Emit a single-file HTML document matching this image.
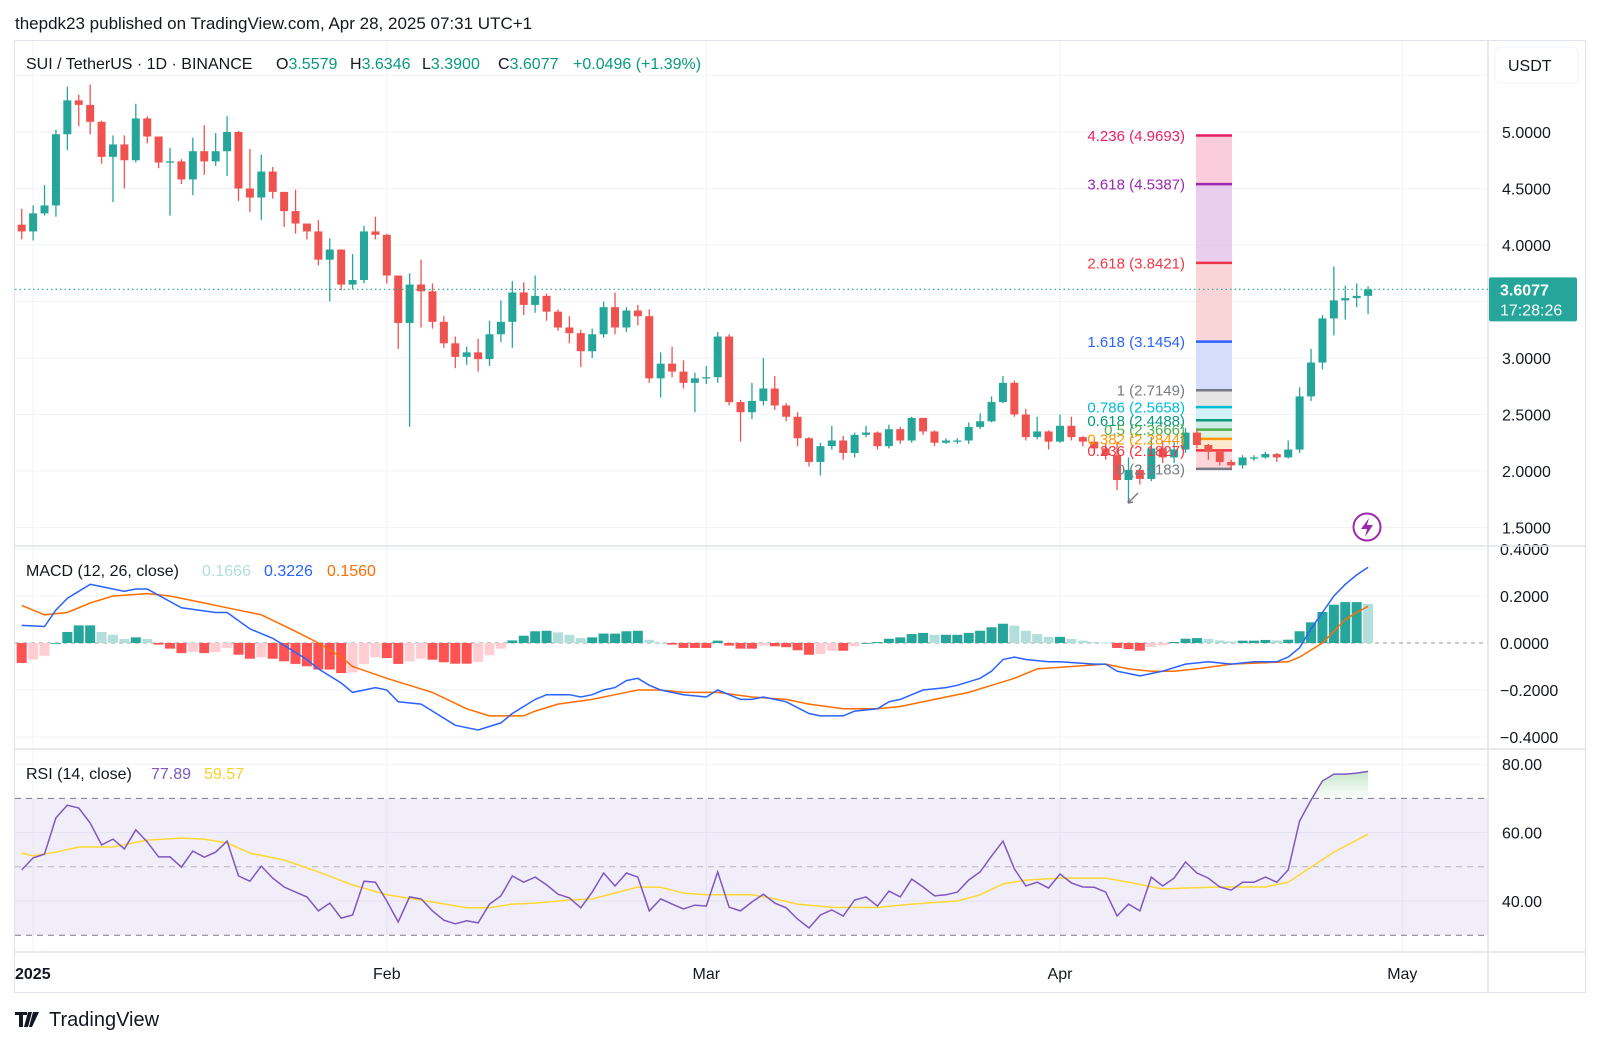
<!DOCTYPE html>
<html><head><meta charset="utf-8"><title>SUI / TetherUS chart</title>
<style>
html,body{margin:0;padding:0;background:#fff;}
svg{display:block;font-family:"Liberation Sans",sans-serif;}
</style></head>
<body>
<svg id="chart" width="1600" height="1045" viewBox="0 0 1600 1045" xmlns="http://www.w3.org/2000/svg">
<defs>
<clipPath id="cMain"><rect x="15" y="41" width="1473" height="505"/></clipPath>
<clipPath id="cMacd"><rect x="15" y="547" width="1473" height="202"/></clipPath>
<clipPath id="cRsi"><rect x="15" y="750" width="1473" height="202"/></clipPath>
<linearGradient id="obGrad" x1="0" y1="0" x2="0" y2="1"><stop offset="0" stop-color="#4caf50" stop-opacity="0.3"/><stop offset="1" stop-color="#4caf50" stop-opacity="0.02"/></linearGradient>
</defs>
<text x="15" y="29" font-size="17" fill="#131722">thepdk23 published on TradingView.com, Apr 28, 2025 07:31 UTC+1</text>
<rect x="14.5" y="40.5" width="1571" height="952" fill="none" stroke="#e0e3eb"/>
<g id="grid"></g>
<g id="main" clip-path="url(#cMain)"></g>
<g id="macd" clip-path="url(#cMacd)"></g>
<g id="rsi" clip-path="url(#cRsi)"></g>
<g id="axes"></g>
<g font-size="16">
<text x="26" y="69" fill="#131722">SUI / TetherUS · 1D · BINANCE</text>
<text x="276" y="69" fill="#131722">O<tspan fill="#089981">3.5579</tspan></text>
<text x="350" y="69" fill="#131722">H<tspan fill="#089981">3.6346</tspan></text>
<text x="422" y="69" fill="#131722">L<tspan fill="#089981">3.3900</tspan></text>
<text x="498" y="69" fill="#131722">C<tspan fill="#089981">3.6077</tspan></text>
<text x="573" y="69" fill="#089981">+0.0496 (+1.39%)</text>
</g>
<g font-size="16">
<text x="26" y="576" fill="#131722">MACD (12, 26, close)</text>
<text x="202" y="576" fill="#b2dfdb">0.1666</text>
<text x="264" y="576" fill="#2962ff">0.3226</text>
<text x="327" y="576" fill="#ff6d00">0.1560</text>
</g>
<g font-size="16">
<text x="26" y="779" fill="#131722">RSI (14, close)</text>
<text x="151" y="779" fill="#7e57c2">77.89</text>
<text x="204" y="779" fill="#f9cf2c">59.57</text>
</g>
<g>
<rect x="1495" y="47" width="83" height="36" rx="5" fill="#fff" stroke="#f0f3fa"/>
<text x="1508" y="71" font-size="16" fill="#131722">USDT</text>
</g>
<g>
<circle cx="1367" cy="527" r="13.5" fill="#fff" stroke="#9c27b0" stroke-width="2"/>
<path d="M1369 518 L1361 529 L1367 529 L1365 537 L1373 525 L1367 525 Z" fill="#9c27b0"/>
</g>
<g>
<path d="M15 1012 h12 v3 h-4 v12 h-4 v-12 h-4 z M28 1012 h4 l-4 15 h-4 z M33 1012 h6 l-7 15 h-3 z" fill="#131722"/>
<text x="49" y="1026" font-size="20" fill="#131722">TradingView</text>
</g>
<script>
// ---------- data ----------
const firstOpen = 4.18;
const closes = [4.12,4.28,4.35,4.98,5.28,5.24,5.09,4.78,4.89,4.75,
5.12,4.96,4.73,4.74,4.58,4.83,4.74,4.83,5.00,4.50,
4.42,4.65,4.47,4.30,4.19,4.12,3.87,3.96,3.65,3.69,
4.12,4.09,3.73,3.31,3.65,3.59,3.32,3.13,3.01,3.05,
2.99,3.21,3.32,3.58,3.47,3.55,3.41,3.27,3.22,3.06,
3.21,3.45,3.27,3.42,3.37,2.82,2.95,2.88,2.78,2.82,
2.83,3.19,2.61,2.52,2.62,2.73,2.58,2.48,2.29,2.08,
2.22,2.27,2.16,2.32,2.34,2.22,2.37,2.27,2.47,2.35,
2.25,2.27,2.27,2.39,2.44,2.61,2.78,2.50,2.30,2.35,
2.26,2.40,2.30,2.26,2.20,2.14,1.92,2.01,1.93,2.20,
2.12,2.19,2.34,2.23,2.17,2.08,2.05,2.12,2.12,2.15,
2.12,2.19,2.66,2.96,3.35,3.51,3.53,3.55,3.6077];
const highs = [4.32,4.35,4.53,5.02,5.40,5.33,5.42,5.10,4.97,4.97,
5.25,5.14,4.95,4.86,4.76,4.95,5.06,4.99,5.14,5.01,
4.85,4.80,4.69,4.45,4.49,4.19,4.22,4.06,3.96,3.92,
4.17,4.25,4.10,3.73,3.75,3.87,3.66,3.37,3.19,3.10,
3.17,3.33,3.51,3.68,3.67,3.73,3.57,3.43,3.37,3.25,
3.26,3.50,3.58,3.45,3.47,3.43,3.05,3.10,2.98,2.87,
2.93,3.23,3.21,2.63,2.78,3.00,2.84,2.60,2.52,2.30,
2.25,2.40,2.31,2.34,2.40,2.35,2.41,2.39,2.48,2.46,
2.36,2.29,2.29,2.43,2.51,2.66,2.84,2.80,2.55,2.48,
2.36,2.50,2.48,2.31,2.28,2.25,2.26,2.12,2.03,2.30,
2.27,2.26,2.38,2.37,2.24,2.19,2.10,2.14,2.14,2.17,
2.16,2.27,2.74,3.08,3.38,3.81,3.64,3.66,3.6346];
const lows = [4.05,4.04,4.26,4.25,4.84,5.05,4.98,4.72,4.38,4.50,
4.73,4.90,4.68,4.26,4.54,4.44,4.62,4.70,4.61,4.39,
4.29,4.22,4.41,4.16,4.10,4.05,3.82,3.50,3.60,3.61,
3.66,4.05,3.66,3.08,2.39,3.27,3.26,3.09,2.91,2.94,
2.88,2.93,3.14,3.09,3.38,3.40,3.33,3.24,3.13,2.92,
3.00,3.18,3.21,3.23,3.29,2.78,2.65,2.83,2.73,2.52,
2.77,2.78,2.58,2.26,2.46,2.58,2.54,2.44,2.22,2.04,
1.96,2.19,2.10,2.12,2.30,2.19,2.20,2.24,2.25,2.32,
2.22,2.24,2.24,2.24,2.37,2.43,2.60,2.48,2.27,2.28,
2.19,2.25,2.27,2.22,2.15,2.10,1.83,1.73,1.88,1.91,
2.07,2.07,2.16,2.20,2.10,2.05,2.02,2.02,2.09,2.11,
2.08,2.11,2.16,2.62,2.90,3.20,3.34,3.45,3.39];
const lastPrice = 3.6077;
const priceTicks = [5.0,4.5,4.0,3.0,2.5,2.0,1.5];
const priceGrid = [5.5,5.0,4.5,4.0,3.5,3.0,2.5,2.0,1.5];
const monthLabels = ["2025","Feb","Mar","Apr","May"];
const monthBarIdx = [1,32,60,91,121];
const fibRatios = ["4.236","3.618","2.618","1.618","1","0.786","0.618","0.5","0.382","0.236","0"];
const fibPrices = [4.9693,4.5387,3.8421,3.1454,2.7149,2.5658,2.4488,2.3666,2.2844,2.1827,2.0183];
const fibColors = ["#e91e63","#9c27b0","#f23645","#2962ff","#787b86","#00bcd4","#089981","#4caf50","#ff9800","#f23645","#787b86"];
const fibFills = ["#f8bbd0","#e1bee7","#f8c7cb","#c5d3fb","#dcdcdc","#c4eef3","#c2e6df","#d4edd5","#ffe2bd","#fbc8cc"];
const macdIdx = [0,2,3,4,6,7,9,10,11,14,17,18,20,22,23,25,26,28,29,31,32,33,35,36,38,40,42,43,45,46,48,49,50,51,52,53,54,55,56,58,60,61,63,64,65,67,69,70,72,73,75,76,77,78,79,81,82,84,85,86,87,88,90,91,94,95,96,97,98,99,100,102,104,106,108,110,111,112,113,114,115,116,117,118];
const macdVals = [0.075,0.07,0.14,0.19,0.25,0.24,0.22,0.23,0.23,0.15,0.13,0.13,0.06,0.02,-0.01,-0.07,-0.11,-0.17,-0.21,-0.19,-0.20,-0.25,-0.26,-0.29,-0.35,-0.37,-0.34,-0.30,-0.24,-0.22,-0.22,-0.23,-0.22,-0.20,-0.19,-0.16,-0.15,-0.18,-0.20,-0.22,-0.23,-0.20,-0.24,-0.24,-0.23,-0.25,-0.30,-0.31,-0.31,-0.29,-0.28,-0.25,-0.24,-0.22,-0.20,-0.19,-0.18,-0.15,-0.12,-0.07,-0.06,-0.07,-0.08,-0.08,-0.09,-0.09,-0.12,-0.13,-0.14,-0.13,-0.12,-0.09,-0.08,-0.09,-0.08,-0.08,-0.06,-0.02,0.06,0.13,0.20,0.25,0.29,0.3226];
const signalIdx = [0,2,4,6,8,11,13,16,18,21,24,26,28,29,32,36,39,41,44,45,47,50,52,54,56,58,61,64,67,69,72,75,77,80,83,85,87,89,92,95,97,99,101,103,106,111,112,113,114,115,116,117,118];
const signalVals = [0.16,0.12,0.13,0.17,0.20,0.21,0.20,0.17,0.15,0.12,0.05,0.0,-0.06,-0.10,-0.15,-0.21,-0.28,-0.31,-0.31,-0.29,-0.26,-0.24,-0.22,-0.20,-0.20,-0.21,-0.21,-0.23,-0.24,-0.26,-0.28,-0.28,-0.27,-0.24,-0.21,-0.18,-0.15,-0.11,-0.10,-0.09,-0.11,-0.12,-0.12,-0.11,-0.09,-0.08,-0.06,-0.03,0.0,0.05,0.10,0.13,0.156];
const histVals = [-0.085,-0.07,-0.054,0.0,0.047,0.075,0.075,0.047,0.035,0.017,
0.024,0.017,-0.007,-0.024,-0.043,-0.038,-0.043,-0.038,-0.021,-0.05,
-0.067,-0.061,-0.067,-0.078,-0.089,-0.099,-0.113,-0.113,-0.128,-0.125,
-0.089,-0.061,-0.064,-0.089,-0.078,-0.067,-0.071,-0.082,-0.088,-0.088,
-0.081,-0.052,-0.024,0.011,0.031,0.05,0.052,0.045,0.035,0.021,
0.024,0.04,0.04,0.05,0.052,0.014,0.0,-0.007,-0.021,-0.021,
-0.021,0.01,-0.011,-0.024,-0.024,-0.011,-0.014,-0.018,-0.031,-0.05,
-0.047,-0.033,-0.033,-0.014,0.0,0.004,0.018,0.024,0.038,0.043,
0.035,0.035,0.035,0.043,0.052,0.067,0.082,0.074,0.052,0.038,
0.026,0.026,0.017,0.01,0.004,0.002,-0.021,-0.026,-0.033,-0.017,
-0.01,0.004,0.018,0.021,0.017,0.011,0.007,0.01,0.01,0.013,
0.011,0.014,0.05,0.088,0.132,0.163,0.174,0.174,0.1666];
const macdTicks = [0.4,0.2,0.0,-0.2,-0.4];
const macdTickLabels = ["0.4000","0.2000","0.0000","\u22120.2000","\u22120.4000"];
const rsiVals = [49.1,52.6,53.7,64.3,68,67.2,62.8,56.4,58.1,55.2,
60.8,57.3,52.9,52.9,49.9,54.6,52.8,54.3,57.5,47.3,
45.8,50.2,46.7,44.1,42.6,41.2,37.1,39.4,35,35.9,
45.8,45.5,40,33.9,41.2,40.6,37.1,34.4,33.3,34.2,
33.6,39.1,41.5,47.3,45.5,47,44.7,42,40.9,38,
42.6,48.2,44.4,48.2,47,37.1,40.6,39.1,37.7,38.8,
38.5,48.5,38.2,37.1,39.7,42,39.4,38,34.7,32.1,
35.9,37.4,35.6,40.3,41.2,38.5,42.9,41.2,46.4,44.1,
41.5,41.8,42.6,46.1,48.5,53.2,57.5,49.4,44.4,45.5,
43.8,47.9,45.3,44.1,44,42.6,35.6,39.1,37.1,47,
44.4,46.7,51.4,48.2,46.7,44.1,43.2,45.5,45.5,47,
45.5,49.1,63.4,69.5,75.1,77.1,77.1,77.4,77.89];
const rsiMaIdx = [0,1,3,5,8,11,14,16,18,20,23,26,29,32,36,39,41,43,45,48,50,52,54,56,58,60,64,66,68,71,75,78,82,84,86,88,91,95,97,100,102,105,109,111,113,115,118];
const rsiMaVals = [54,53.2,54.3,55.8,55.8,57.8,58.4,58.1,57,54,52,48.5,44.7,41.8,39.7,38,38,39.1,39.4,40.3,40.6,42.3,44.1,44,42.3,41.8,41.8,40.6,39.1,38.2,38.1,39.1,40,41.8,45,46.1,46.7,46.7,45.5,43.5,43.8,44.1,44.1,45.5,49.9,54.3,59.57];
const rsiTicks = [80,60,40];
const rsiTickLabels = ["80.00","60.00","40.00"];

// ---------- scales ----------
const X0 = 21.7, STEP = 11.41, PL = 15, PR = 1488;
function xAt(i){ return X0 + i*STEP; }
function yP(p){ return 245 - (p-4)*113; }
function yM(v){ return 643 - v*235; }
function yR(v){ return 901 - (v-40)*3.42; }

const NS = "http://www.w3.org/2000/svg";
function mk(tag, attrs, parent){
  const e = document.createElementNS(NS, tag);
  for (const k in attrs) e.setAttribute(k, attrs[k]);
  parent.appendChild(e);
  return e;
}
const gGrid = document.getElementById('grid');
const gMain = document.getElementById('main');
const gMacd = document.getElementById('macd');
const gRsi = document.getElementById('rsi');
const gAxes = document.getElementById('axes');
const GRID = "#f0f3fa", BORDER = "#e0e3eb";

monthBarIdx.forEach((bi, k) => {
  const x = xAt(bi);
  const l = mk('line', {x1:x, x2:x, y1:41, y2:952, stroke:GRID, 'stroke-width':1}, gGrid);
  
  
  const t = mk('text', {x: k===0 ? 15 : x, y:979, 'font-size':16, fill:'#131722', 'text-anchor': k===0 ? 'start' : 'middle', 'font-weight': k===0 ? 'bold' : 'normal'}, gAxes);
  t.textContent = monthLabels[k];
  
  
});
priceGrid.forEach(p => {
  const l = mk('line', {x1:PL, x2:PR, y1:yP(p), y2:yP(p), stroke:GRID}, gGrid);
  
  
});
priceTicks.forEach(p => {
  const t = mk('text', {x:1502, y:yP(p)+6, 'font-size':16, fill:'#131722'}, gAxes);
  t.textContent = p.toFixed(4);
  
  
});
macdTicks.forEach((v, k) => {
  if (v !== 0) {
    const l = mk('line', {x1:PL, x2:PR, y1:yM(v), y2:yM(v), stroke:GRID}, gGrid);
    
    
  }
  const t = mk('text', {x:1500, y:yM(v)+6, 'font-size':16, fill:'#131722'}, gAxes);
  t.textContent = macdTickLabels[k];
  
  
});
rsiTicks.forEach((v, k) => {
  const l = mk('line', {x1:PL, x2:PR, y1:yR(v), y2:yR(v), stroke:GRID}, gGrid);
  
  
  const t = mk('text', {x:1502, y:yR(v)+6, 'font-size':16, fill:'#131722'}, gAxes);
  t.textContent = rsiTickLabels[k];
  
  
});
[[PL,546,1586,546],[PL,749,1586,749],[PL,952,1586,952],[PR,41,PR,993]].forEach(s => {
  const l = mk('line', {x1:s[0], y1:s[1], x2:s[2], y2:s[3], stroke:BORDER, 'stroke-width':1.5}, gAxes);
  
  
});

const FX1 = 1196, FX2 = 1232;
for (let k = 0; k < fibFills.length; k++) {
  const y1 = yP(fibPrices[k]), y2 = yP(fibPrices[k+1]);
  const r = mk('rect', {x:FX1, y:y1, width:FX2-FX1, height:y2-y1, fill:fibFills[k], opacity:0.75}, gMain);
  
  
}
fibPrices.forEach((p, k) => {
  const y = yP(p);
  const l = mk('line', {x1:FX1, x2:FX2, y1:y, y2:y, stroke:fibColors[k], 'stroke-width':2.5}, gMain);
  
  
});

closes.forEach((c, i) => {
  const o = i === 0 ? firstOpen : closes[i-1];
  const up = c >= o;
  const col = up ? '#26a69a' : '#ef5350';
  const x = xAt(i);
  const hi = Math.max(highs[i], o, c), lo = Math.min(lows[i], o, c);
  const w = mk('line', {x1:x, x2:x, y1:yP(hi), y2:yP(lo), stroke:col, 'stroke-width':1.3}, gMain);
  
  
  const yt = yP(Math.max(o,c)), yb = yP(Math.min(o,c));
  const b = mk('rect', {x:x-4, y:yt, width:8, height:Math.max(1.3, yb-yt), fill:col}, gMain);
  
  
});

fibPrices.forEach((p, k) => {
  const t = mk('text', {x:1185, y:yP(p)+5.5, 'font-size':15, fill:fibColors[k], 'text-anchor':'end'}, gMain);
  t.textContent = fibRatios[k] + ' (' + p.toFixed(4) + ')';
  
  
});
const tm = mk('path', {d:'M1128 503 L1138 493 M1128 503 L1133 502 M1128 503 L1129 498', stroke:'#787b86', 'stroke-width':1.5, fill:'none'}, gMain);



const lpY = yP(lastPrice);
const lpl = mk('line', {x1:PL, x2:PR, y1:lpY, y2:lpY, stroke:'#26a69a', 'stroke-dasharray':'1.5 3', 'stroke-width':1.2}, gAxes);


const tag = mk('rect', {x:1489, y:lpY-12, width:88, height:44, rx:2, fill:'#26a69a'}, gAxes);


const tg1 = mk('text', {x:1500, y:lpY+6, 'font-size':16, fill:'#fff', 'font-weight':'bold'}, gAxes);
tg1.textContent = lastPrice.toFixed(4);


const tg2 = mk('text', {x:1500, y:lpY+26, 'font-size':16, fill:'#fff'}, gAxes);
tg2.textContent = '17:28:26';



const zl = mk('line', {x1:PL, x2:PR, y1:yM(0), y2:yM(0), stroke:'#9598a1', 'stroke-dasharray':'4 4', 'stroke-width':1}, gMacd);


histVals.forEach((v, i) => {
  const prev = i === 0 ? v : histVals[i-1];
  let col;
  if (v >= 0) col = v >= prev ? '#26a69a' : '#b2dfdb';
  else col = v <= prev ? '#ff5252' : '#ffcdd2';
  const y0 = yM(0), y1 = yM(v);
  const r = mk('rect', {x:xAt(i)-5, y:Math.min(y0,y1), width:10, height:Math.max(0.8, Math.abs(y1-y0)), fill:col}, gMacd);
  
  
});
function poly(idx, vals, yf){ return idx.map((b,k) => xAt(b).toFixed(1)+','+yf(vals[k]).toFixed(1)).join(' '); }
const sig = mk('polyline', {points:poly(signalIdx, signalVals, yM), fill:'none', stroke:'#ff6d00', 'stroke-width':1.5}, gMacd);


const ml = mk('polyline', {points:poly(macdIdx, macdVals, yM), fill:'none', stroke:'#2962ff', 'stroke-width':1.5}, gMacd);



const band = mk('rect', {x:PL, y:yR(70), width:PR-PL, height:yR(30)-yR(70), fill:'#7e57c2', 'fill-opacity':0.1}, gRsi);


[[70,'#787b86'],[50,'#b2b5be'],[30,'#787b86']].forEach(d => {
  const l = mk('line', {x1:PL, x2:PR, y1:yR(d[0]), y2:yR(d[0]), stroke:d[1], 'stroke-dasharray':'6 5', 'stroke-width':1}, gRsi);
  
  
});
let ob = [];
rsiVals.forEach((v, i) => { if (v > 70) ob.push(i); });
if (ob.length) {
  const s = ob[0]-1, e = ob[ob.length-1];
  const t0 = s + (70 - rsiVals[s]) / (rsiVals[s+1]-rsiVals[s]);
  let pts = xAt(t0).toFixed(1)+','+yR(70).toFixed(1)+' ';
  for (let i = ob[0]; i <= e; i++) pts += xAt(i).toFixed(1)+','+yR(rsiVals[i]).toFixed(1)+' ';
  pts += xAt(e).toFixed(1)+','+yR(70).toFixed(1);
  const f = mk('polygon', {points:pts, fill:'url(#obGrad)'}, gRsi);
  
  
}
const rma = mk('polyline', {points:poly(rsiMaIdx, rsiMaVals, yR), fill:'none', stroke:'#fdd835', 'stroke-width':1.5}, gRsi);


const rl = mk('polyline', {points:rsiVals.map((v,i) => xAt(i).toFixed(1)+','+yR(v).toFixed(1)).join(' '), fill:'none', stroke:'#7e57c2', 'stroke-width':1.5}, gRsi);


</script>
</svg>
</body></html>
